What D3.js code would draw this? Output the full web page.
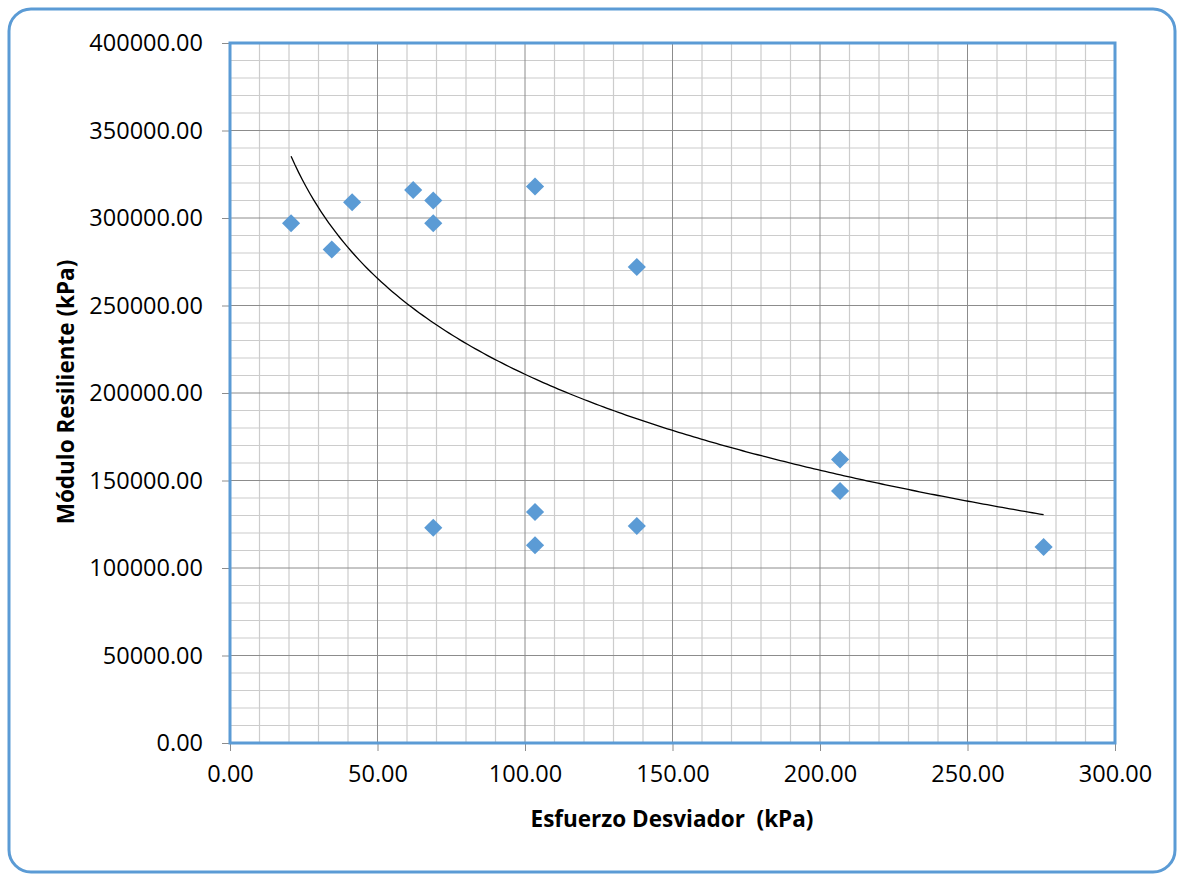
<!DOCTYPE html>
<html>
<head>
<meta charset="utf-8">
<script src="https://cdn.jsdelivr.net/npm/d3@7"></script>
<style>
  html, body { margin: 0; padding: 0; background: #fff; }
  svg { display: block; }
  text { font-family: "Open Sans", "Liberation Sans", sans-serif; fill: #000; }
</style>
</head>
<body>
<svg id="chart" width="1177" height="875"></svg>
<script>
// Esfuerzo desviador (kPa) de cada ensayo
const esfuerzo = [20.7, 34.5, 41.4, 62.1, 68.9, 68.9, 68.9, 103.4, 103.4, 103.4, 137.9, 137.9, 206.8, 206.8, 275.8];
// Módulo resiliente medido (kPa)
const modulo = [297000, 282000, 309000, 316000, 310000, 297000, 123000, 318000, 132000, 113000, 272000, 124000, 162000, 144000, 112000];

const xTicks = [0, 50, 100, 150, 200, 250, 300];
const yTicks = [0, 50000, 100000, 150000, 200000, 250000, 300000, 350000, 400000];
const xMinor = d3.range(0, 301, 10);
const yMinor = d3.range(0, 400001, 10000);

const xTitle = "Esfuerzo Desviador  (kPa)";
const yTitle = "Módulo Resiliente (kPa)";

const blue = "#5B9BD5";
const svg = d3.select("#chart");

// outer chart frame
svg.append("rect")
  .attr("x", 9).attr("y", 9)
  .attr("width", 1166).attr("height", 863)
  .attr("rx", 22).attr("ry", 22)
  .attr("fill", "#fff")
  .attr("stroke", blue).attr("stroke-width", 3);

const plot = { left: 230, top: 43, right: 1115, bottom: 743 };
const x = d3.scaleLinear().domain([0, 300]).range([plot.left, plot.right]);
const y = d3.scaleLinear().domain([0, 400000]).range([plot.bottom, plot.top]);

const g = svg.append("g");

// minor gridlines
g.append("g").selectAll("line").data(xMinor.filter(v => v % 50 !== 0)).join("line")
  .attr("x1", d => x(d)).attr("x2", d => x(d))
  .attr("y1", plot.top).attr("y2", plot.bottom)
  .attr("stroke", "#cccccc").attr("stroke-width", 1.2);
g.append("g").selectAll("line").data(yMinor.filter(v => v % 50000 !== 0)).join("line")
  .attr("y1", d => y(d)).attr("y2", d => y(d))
  .attr("x1", plot.left).attr("x2", plot.right)
  .attr("stroke", "#cccccc").attr("stroke-width", 1.2);

// major gridlines
g.append("g").selectAll("line").data(xTicks).join("line")
  .attr("x1", d => x(d)).attr("x2", d => x(d))
  .attr("y1", plot.top).attr("y2", plot.bottom)
  .attr("stroke", "#8c8c8c").attr("stroke-width", 1);
g.append("g").selectAll("line").data(yTicks).join("line")
  .attr("y1", d => y(d)).attr("y2", d => y(d))
  .attr("x1", plot.left).attr("x2", plot.right)
  .attr("stroke", "#8c8c8c").attr("stroke-width", 1);

// axes with outer tick marks
const fmt = d3.format(".2f");
const xAxis = svg.append("g")
  .attr("transform", `translate(0,${plot.bottom})`)
  .call(d3.axisBottom(x).tickValues(xTicks).tickFormat(fmt).tickSize(8).tickPadding(14));
const yAxis = svg.append("g")
  .attr("transform", `translate(${plot.left},0)`)
  .call(d3.axisLeft(y).tickValues(yTicks).tickFormat(fmt).tickSize(8).tickPadding(19));
[xAxis, yAxis].forEach(a => {
  a.select(".domain").remove();
  a.selectAll(".tick line").attr("stroke", "#8c8c8c");
  a.selectAll(".tick text")
    .attr("font-family", "'Open Sans', 'Liberation Sans', sans-serif")
    .attr("font-size", 23.5).attr("fill", "#000");
});

// plot area border
svg.append("rect")
  .attr("x", plot.left).attr("y", plot.top)
  .attr("width", plot.right - plot.left).attr("height", plot.bottom - plot.top)
  .attr("fill", "none").attr("stroke", blue).attr("stroke-width", 3);

// logarithmic trend line fitted by least squares: y = a ln(x) + b
const lx = esfuerzo.map(Math.log);
const mx = d3.mean(lx), my = d3.mean(modulo);
const sxy = d3.sum(lx, (v, i) => (v - mx) * (modulo[i] - my));
const sxx = d3.sum(lx, v => (v - mx) * (v - mx));
const slope = sxy / sxx, intercept = my - slope * mx;
const [xmin, xmax] = d3.extent(esfuerzo);
const trend = d3.range(0, 201).map(i => {
  const xv = xmin + (xmax - xmin) * i / 200;
  return [xv, slope * Math.log(xv) + intercept];
});
svg.append("path")
  .datum(trend)
  .attr("fill", "none").attr("stroke", "#000").attr("stroke-width", 1.3)
  .attr("d", d3.line().x(d => x(d[0])).y(d => y(d[1])));

// diamond markers
const diamond = d3.symbol().type(d3.symbolSquare).size(165);
svg.append("g").selectAll("path").data(esfuerzo).join("path")
  .attr("d", diamond)
  .attr("transform", (d, i) => `translate(${x(d)},${y(modulo[i])}) rotate(45)`)
  .attr("fill", blue);

// axis titles
svg.append("text")
  .attr("x", 672).attr("y", 827)
  .attr("text-anchor", "middle").attr("font-size", 22.5).attr("font-weight", "bold")
  .attr("xml:space", "preserve")
  .text(xTitle);
svg.append("text")
  .attr("transform", "translate(74,392) rotate(-90)")
  .attr("text-anchor", "middle").attr("font-size", 22.5).attr("font-weight", "bold")
  .text(yTitle);
</script>
</body>
</html>
